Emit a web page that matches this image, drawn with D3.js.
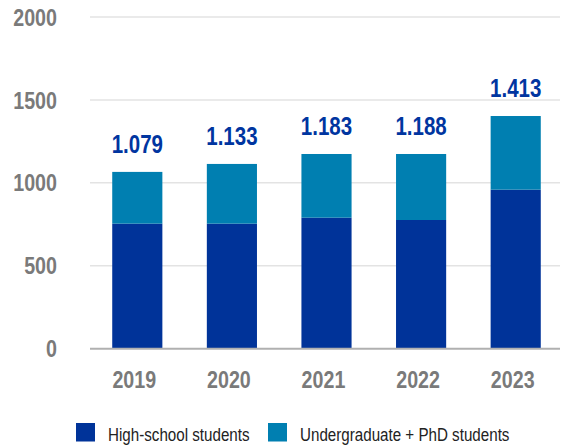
<!DOCTYPE html>
<html lang="en">
<head>
    <meta charset="UTF-8">
    <title>Students per year</title>
    <style>
        body { margin: 0; background: #fff; }
        text { font-family: "Liberation Sans", Arial, sans-serif; }
        .tick-label { font-size: 24px; font-weight: bold; fill: #7a7a7a; }
        .total { font-size: 25px; font-weight: bold; fill: #0035a0; text-anchor: middle; }
        .legend-text { font-size: 18.5px; fill: #222; }
    </style>
</head>
<body>
<div id="chart"></div>
<script src="https://d3js.org/d3.v7.min.js"></script>
<script>
    var years = ["2019", "2020", "2021", "2022", "2023"]
    var highSchool = [754, 754, 790, 776, 959]
    var undergrad = [312, 360, 384, 398, 444]
    var totalLabels = ["1.079", "1.133", "1.183", "1.188", "1.413"]
    var yTicks = [0, 500, 1000, 1500, 2000]
    var seriesNames = ["High-school students", "Undergraduate + PhD students"]
    var seriesColors = ["#003399", "#007fb1"]

    var width = 565, height = 447
    var narrow = 0.82   // no narrow font installed, squeeze horizontally
    var svg = d3.select("#chart").append("svg")
        .attr("width", width)
        .attr("height", height)

    function place(px, py) {
        return "translate(" + px + "," + py + ") scale(" + narrow + ",1)"
    }

    var x = d3.scaleBand()
        .domain(years)
        .range([90, 563])
        .paddingInner(0.47)
        .paddingOuter(0.235)

    var y = d3.scaleLinear()
        .domain([0, 2000])
        .range([348.7, 17])

    // gridlines + y labels
    svg.selectAll(".grid")
        .data(yTicks.slice(1))
        .enter().append("line")
        .attr("class", "grid")
        .attr("x1", 90).attr("x2", 560)
        .attr("y1", function (d) { return y(d) }).attr("y2", function (d) { return y(d) })
        .attr("stroke", "#e3e3e3")
        .attr("stroke-width", 1.5)

    svg.selectAll(".y-label")
        .data(yTicks)
        .enter().append("text")
        .attr("class", "tick-label")
        .attr("transform", function (d) { return place(57, y(d)) })
        .attr("dy", "0.36em")
        .attr("text-anchor", "end")
        .text(function (d) { return d })

    var rows = years.map(function (yr, i) {
        return { year: yr, high: highSchool[i], under: undergrad[i] }
    })
    var stacked = d3.stack().keys(["high", "under"])(rows)

    svg.selectAll(".series")
        .data(stacked)
        .enter().append("g")
        .attr("fill", function (d, i) { return seriesColors[i] })
        .selectAll("rect")
        .data(function (d) { return d })
        .enter().append("rect")
        .attr("x", function (d) { return x(d.data.year) })
        .attr("width", x.bandwidth())
        .attr("y", function (d) { return y(d[1]) })
        .attr("height", function (d) { return y(d[0]) - y(d[1]) })

    // baseline
    svg.append("line")
        .attr("x1", 90).attr("x2", 560)
        .attr("y1", y(0)).attr("y2", y(0))
        .attr("stroke", "#b0b0b0")
        .attr("stroke-width", 2)

    // totals above bars
    svg.selectAll(".total")
        .data(rows)
        .enter().append("text")
        .attr("class", "total")
        .attr("transform", function (d) {
            return place(x(d.year) + x.bandwidth() / 2, y(d.high + d.under) - 19)
        })
        .text(function (d, i) { return totalLabels[i] })

    // x labels
    svg.selectAll(".x-label")
        .data(years)
        .enter().append("text")
        .attr("class", "tick-label")
        .attr("transform", function (d) { return place(x(d) + x.bandwidth() / 2 - 3, 388) })
        .attr("text-anchor", "middle")
        .text(function (d) { return d })

    // legend
    var legendX = [76, 268]
    var legend = svg.selectAll(".legend")
        .data(seriesNames)
        .enter().append("g")
        .attr("transform", function (d, i) { return "translate(" + legendX[i] + ",423)" })
    legend.append("rect")
        .attr("width", 19).attr("height", 18.5)
        .attr("fill", function (d, i) { return seriesColors[i] })
    legend.append("text")
        .attr("class", "legend-text")
        .attr("transform", place(32, 17.5))
        .text(function (d) { return d })
</script>
</body>
</html>
